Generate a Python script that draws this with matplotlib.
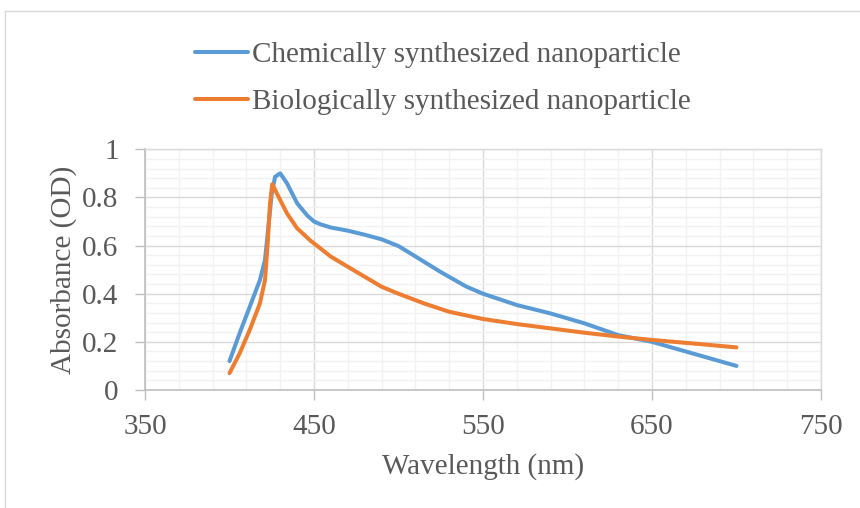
import matplotlib
matplotlib.use('Agg')
import matplotlib.pyplot as plt
from matplotlib.ticker import MultipleLocator
from matplotlib.lines import Line2D

# UV-vis absorbance spectra
wl_chem = [400, 406, 412, 418, 421, 423, 425, 427, 430, 434, 440, 446, 450, 454, 460,
           470, 480, 490, 500, 510, 525, 540, 550, 570, 590, 610, 630, 650, 675, 700]
abs_chem = [0.12, 0.236, 0.346, 0.457, 0.54, 0.678, 0.817, 0.886, 0.90, 0.859, 0.776,
            0.725, 0.70, 0.688, 0.675, 0.662, 0.645, 0.626, 0.598, 0.555, 0.49, 0.43,
            0.40, 0.353, 0.318, 0.277, 0.228, 0.20, 0.15, 0.10]

wl_bio = [400, 406, 412, 418, 421, 422.6, 424, 425.3, 429, 434, 440, 448, 460, 470,
          490, 500, 515, 530, 550, 570, 590, 610, 630, 650, 678, 700]
abs_bio = [0.07, 0.152, 0.25, 0.36, 0.457, 0.61, 0.776, 0.855, 0.803, 0.734, 0.672,
           0.62, 0.554, 0.512, 0.429, 0.40, 0.36, 0.325, 0.295, 0.274, 0.256, 0.238,
           0.222, 0.208, 0.191, 0.177]

labels = ['Chemically synthesized nanoparticle',
          'Biologically synthesized nanoparticle']
x_ticks = [350, 450, 550, 650, 750]
y_ticks = [0, 0.2, 0.4, 0.6, 0.8, 1.0]
y_ticklabels = ['0', '0.2', '0.4', '0.6', '0.8', '1']

plt.rcParams['font.family'] = ['Liberation Serif', 'DejaVu Serif']
text_color = '#595959'
fs = 21

fig = plt.figure(figsize=(8.6, 5.08), dpi=100)
ax = fig.add_axes([145 / 860, 1 - 390 / 508, 676 / 860, 240.7 / 508])

ax.plot(wl_chem, abs_chem, color='#5B9BD5', lw=2.9, solid_capstyle='round',
        solid_joinstyle='round', label=labels[0], zorder=3)
ax.plot(wl_bio, abs_bio, color='#ED7D31', lw=2.9, solid_capstyle='round',
        solid_joinstyle='round', label=labels[1], zorder=3)

ax.set_xlim(350, 750)
ax.set_ylim(0, 1)
ax.set_xticks(x_ticks)
ax.xaxis.set_minor_locator(MultipleLocator(20, offset=10))
ax.set_yticks(y_ticks, y_ticklabels)
ax.yaxis.set_minor_locator(MultipleLocator(0.04))

# Gridlines
ax.grid(which='major', color='#D9D9D9', lw=1.0, zorder=1)
ax.grid(which='minor', color='#F2F2F2', lw=1.0, zorder=0)
ax.set_axisbelow(True)

for side in ['top', 'right']:
    ax.spines[side].set_color('#D9D9D9')
    ax.spines[side].set_linewidth(1.0)
for side in ['bottom', 'left']:
    ax.spines[side].set_color('#BFBFBF')
    ax.spines[side].set_linewidth(1.2)

ax.tick_params(which='major', direction='out', length=7, width=1.0,
               color='#BFBFBF', labelsize=fs, labelcolor=text_color)
ax.tick_params(axis='x', which='major', pad=10)
ax.tick_params(axis='y', which='major', pad=12)
ax.tick_params(which='minor', length=0)

ax.set_xlabel('Wavelength (nm)', fontsize=fs, color=text_color, labelpad=10)
ax.set_ylabel('Absorbance (OD)', fontsize=fs, color=text_color, labelpad=4)

# legend above the plot
fig.legend(loc='center left', bbox_to_anchor=(195 / 860, 1 - 78.5 / 508),
           frameon=False, fontsize=fs, labelcolor=text_color,
           handlelength=1.8, handletextpad=0.15, labelspacing=0.7,
           borderpad=0, borderaxespad=0)

# outer chart border
fig.add_artist(Line2D([5 / 860, 5 / 860], [0, 1 - 11 / 508],
                      transform=fig.transFigure, color='#D9D9D9', lw=1.0))
fig.add_artist(Line2D([5 / 860, 1], [1 - 11 / 508, 1 - 11 / 508],
                      transform=fig.transFigure, color='#D9D9D9', lw=1.0))

fig.savefig('out.png', dpi=100)
